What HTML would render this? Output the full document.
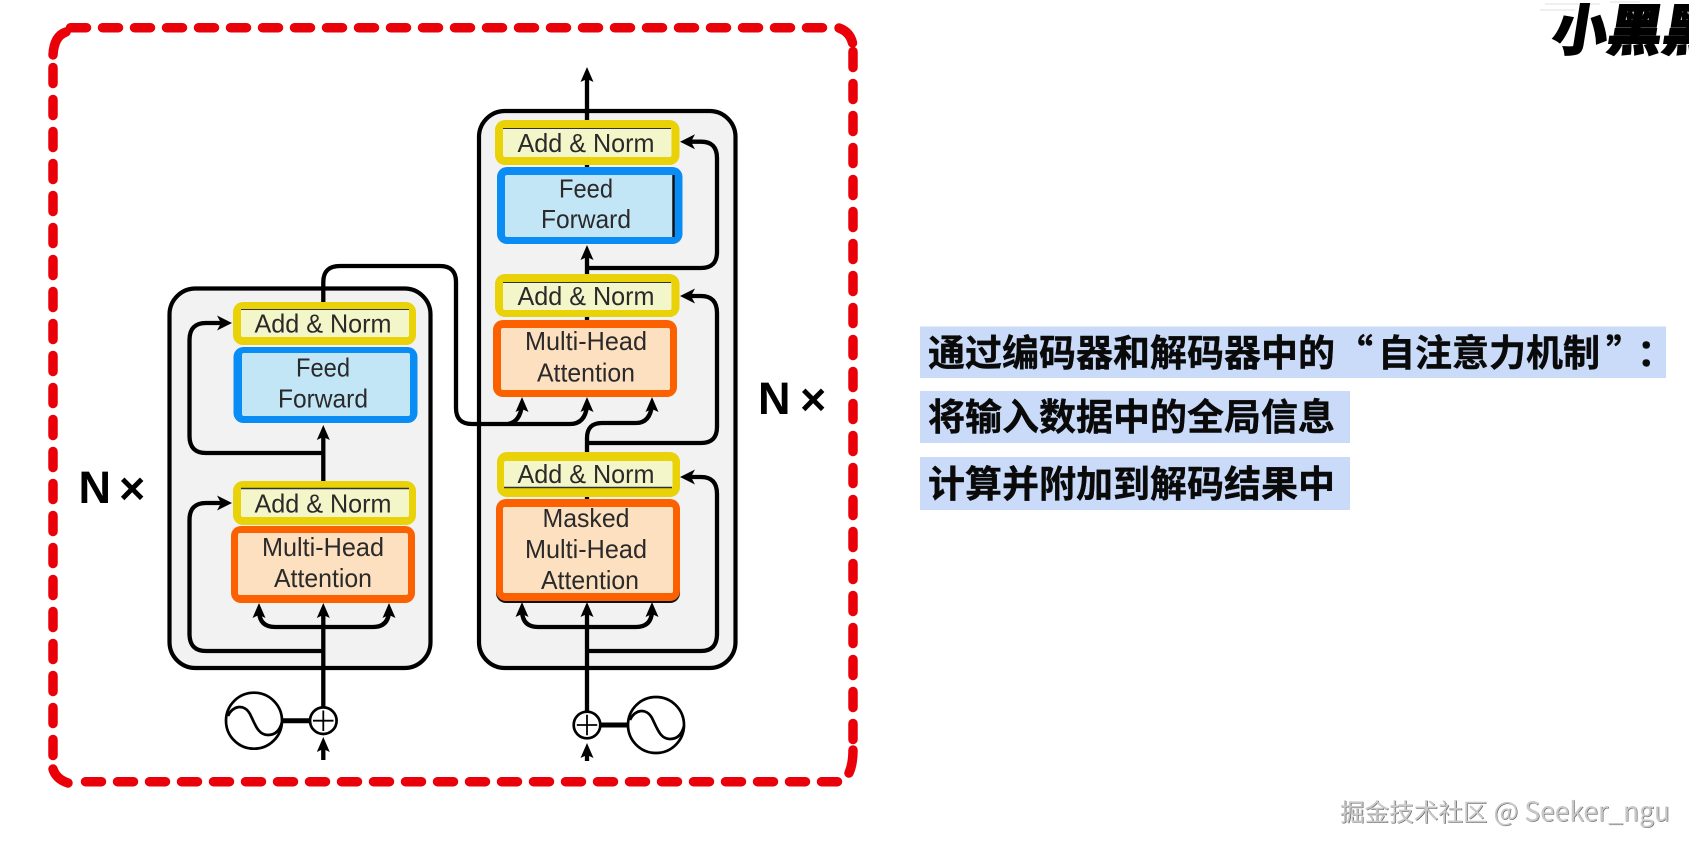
<!DOCTYPE html>
<html><head><meta charset="utf-8"><style>
html,body{margin:0;padding:0;background:#fff;width:1689px;height:851px;overflow:hidden}
svg{display:block}
.t{font-family:"Liberation Sans",sans-serif;font-size:26px;fill:#2a2a2a;text-anchor:middle}
.c{font-family:"Noto Sans CJK SC","Liberation Sans",sans-serif;font-size:37px;font-weight:700;fill:#0a0a0a;stroke:#0a0a0a;stroke-width:.4}
.n{font-family:"Liberation Sans",sans-serif;font-size:45px;font-weight:700;fill:#000}
.l{fill:none;stroke:#000;stroke-width:4.3}
.w{font-family:"Noto Sans CJK SC","Liberation Sans",sans-serif;font-size:24.6px}
.w tspan{font-size:26.4px}
</style></head><body>
<svg width="1689" height="851" viewBox="0 0 1689 851" xmlns="http://www.w3.org/2000/svg">
<defs>
<path id="au" d="M0 0L6.5 15L0 12L-6.5 15Z" fill="#000"/>
<path id="al" d="M0 0L15 -7.5L11 0L15 7.5Z" fill="#000"/>
<path id="ar" d="M0 0L-15 -7.5L-11 0L-15 7.5Z" fill="#000"/>
</defs>
<rect width="1689" height="851" fill="#fff"/>

<!-- red dashed frame -->
<g fill="none" stroke="#ea0008" stroke-width="9.5" stroke-linecap="round">
<path d="M70.5 27.7H823" stroke-dasharray="16 16"/>
<path d="M53 67.5V756" stroke-dasharray="16 16"/>
<path d="M853 51.5V745" stroke-dasharray="16 16"/>
<path d="M85.5 781.7H838" stroke-dasharray="16 16"/>
<path d="M66 32Q54 36 53 55"/>
<path d="M839 28Q850 32 852.5 43"/>
<path d="M853 750Q853 764 849 773"/>
<path d="M53 769Q56 779 68 783"/>
</g>

<!-- layer backgrounds -->
<rect x="169.5" y="288.5" width="261" height="379.5" rx="26" fill="#f2f2f2" stroke="#000" stroke-width="4.2"/>
<rect x="479" y="111" width="256.5" height="557" rx="26" fill="#f2f2f2" stroke="#000" stroke-width="4.2"/>

<!-- connectors -->
<g>
<path d="M323.3 760V745" class="l"/>
<path d="M323.3 707V610" class="l"/>
<path d="M259 612Q260 627 275 627H373Q388 627 389 612" class="l"/>
<path d="M323.3 651H206Q189.5 651 189.5 634V520Q189.5 503 206 503H222" class="l"/>
<path d="M323.3 481V432" class="l"/>
<path d="M323.3 453H206Q189.5 453 189.5 436V340Q189.5 323 206 323H222" class="l"/>
<path d="M323.3 302V282Q323.3 266 340 266H440Q456 266 456 282V408Q456 424 472 424H570Q585 424 587 406" class="l"/>
<path d="M508 424Q520 422 522 405" class="l"/>
<path d="M587 761V750" class="l"/>
<path d="M587 711V610" class="l"/>
<path d="M522 612Q523 627 538 627H636Q651 627 652 612" class="l"/>
<path d="M587 651H701Q717 651 717 634V494Q717 477 701 477H690" class="l"/>
<path d="M587 452V438Q587 423 602 423H636Q650 423 652 405" class="l"/>
<path d="M587 443H701Q717 443 717 427V313Q717 296 701 296H690" class="l"/>
<path d="M587 274V254" class="l"/>
<path d="M587 268H701Q717 268 717 252V158Q717 141.7 701 141.7H690" class="l"/>
<path d="M587 122V78" class="l"/>
<path d="M587 164V168M587 316V321M587 496V500" class="l"/>
<path d="M283 720.7H310" fill="none" stroke="#000" stroke-width="5"/>
<path d="M600 725H628" fill="none" stroke="#000" stroke-width="5"/>
</g>

<!-- arrowheads -->
<use href="#au" x="323.3" y="737"/>
<use href="#au" x="323.3" y="603"/>
<use href="#au" x="259" y="603"/>
<use href="#au" x="389" y="603"/>
<use href="#au" x="323.3" y="425"/>
<use href="#ar" x="232" y="503"/>
<use href="#ar" x="232" y="323"/>
<use href="#au" x="587" y="743"/>
<use href="#au" x="587" y="602"/>
<use href="#au" x="522" y="602"/>
<use href="#au" x="652" y="602"/>
<use href="#au" x="522" y="397"/>
<use href="#au" x="587" y="397"/>
<use href="#au" x="652" y="397"/>
<use href="#au" x="587" y="245"/>
<use href="#au" x="587" y="67"/>
<use href="#al" x="680" y="477"/>
<use href="#al" x="680" y="296"/>
<use href="#al" x="680" y="141.7"/>

<!-- sum circles and sine -->
<g fill="#fff" stroke="#000" stroke-width="2.7">
<circle cx="323.3" cy="720.7" r="13.3"/>
<circle cx="587" cy="725" r="13.3"/>
<circle cx="254" cy="720.7" r="28"/>
<circle cx="656" cy="725" r="28"/>
</g>
<path d="M313 720.7H333.5M323.3 710.5V731M576.8 725H597.2M587 714.8V735.2" fill="none" stroke="#000" stroke-width="1.8"/>
<path d="M228 716C232 706 244 703 250 714C255 724 258 735 268 735C276 735 280 730 282 722" fill="none" stroke="#000" stroke-width="2.7"/>
<path d="M630 720C634 710 646 707 652 718C657 728 660 739 670 739C678 739 682 734 684 726" fill="none" stroke="#000" stroke-width="2.7"/>

<!-- encoder blocks -->
<rect x="233" y="302" width="183" height="43" rx="10" fill="#e9d208"/>
<rect x="241" y="309" width="168" height="28" rx="2" fill="#f3f6c8"/>
<path d="M241 309.5H409" stroke="#333" stroke-width="1"/>
<rect x="233.5" y="347" width="184" height="76" rx="10" fill="#0a8cf5"/>
<rect x="242" y="353" width="168" height="63" rx="2" fill="#c3e6f7"/>
<rect x="233" y="481" width="183" height="44" rx="10" fill="#e9d208"/>
<rect x="241" y="488" width="168" height="29" rx="2" fill="#f3f6c8"/>
<path d="M241 488.5H409" stroke="#333" stroke-width="1.5"/>
<rect x="231" y="526" width="184" height="77" rx="10" fill="#fb6100"/>
<rect x="238" y="533" width="170" height="62" rx="2" fill="#fde0c0"/>

<!-- decoder blocks -->
<rect x="495" y="120" width="184.5" height="45" rx="10" fill="#e9d208"/>
<rect x="503" y="128" width="168.5" height="29" rx="2" fill="#f3f6c8"/>
<path d="M503 128.5H671" stroke="#333" stroke-width="1"/>
<rect x="497" y="167" width="185.5" height="77" rx="10" fill="#0a8cf5"/>
<rect x="505" y="175" width="169.5" height="62" rx="2" fill="#c3e6f7"/>
<path d="M673.5 175V237" stroke="#111" stroke-width="2.5"/>
<rect x="495" y="274" width="184.5" height="43" rx="10" fill="#e9d208"/>
<rect x="503" y="282" width="168.5" height="28" rx="2" fill="#f3f6c8"/>
<path d="M503 282.5H671" stroke="#333" stroke-width="1"/>
<rect x="493" y="320" width="184" height="77" rx="10" fill="#fb6100"/>
<rect x="501" y="328" width="169" height="62" rx="2" fill="#fde0c0"/>
<rect x="497" y="452" width="183" height="45" rx="10" fill="#e9d208"/>
<rect x="504" y="461" width="168.5" height="27" rx="2" fill="#f3f6c8"/>
<path d="M504 487.5H672" stroke="#333" stroke-width="1.5"/>
<rect x="496" y="501" width="184" height="102" rx="10" fill="#111"/>
<rect x="496" y="499" width="184" height="102" rx="10" fill="#fb6100"/>
<rect x="503" y="507" width="170" height="86" rx="2" fill="#fde0c0"/>

<!-- block labels -->
<text class="t" x="323" y="332.7" textLength="137" lengthAdjust="spacingAndGlyphs">Add &amp; Norm</text>
<text class="t" x="323" y="376.7" textLength="54" lengthAdjust="spacingAndGlyphs">Feed</text>
<text class="t" x="323" y="407.5" textLength="90" lengthAdjust="spacingAndGlyphs">Forward</text>
<text class="t" x="323" y="512.7" textLength="137" lengthAdjust="spacingAndGlyphs">Add &amp; Norm</text>
<text class="t" x="323" y="556" textLength="122" lengthAdjust="spacingAndGlyphs">Multi-Head</text>
<text class="t" x="323" y="587" textLength="98" lengthAdjust="spacingAndGlyphs">Attention</text>
<text class="t" x="586" y="152" textLength="137" lengthAdjust="spacingAndGlyphs">Add &amp; Norm</text>
<text class="t" x="586" y="197.3" textLength="54" lengthAdjust="spacingAndGlyphs">Feed</text>
<text class="t" x="586" y="228" textLength="90" lengthAdjust="spacingAndGlyphs">Forward</text>
<text class="t" x="586" y="305" textLength="137" lengthAdjust="spacingAndGlyphs">Add &amp; Norm</text>
<text class="t" x="586" y="350" textLength="122" lengthAdjust="spacingAndGlyphs">Multi-Head</text>
<text class="t" x="586" y="381.7" textLength="98" lengthAdjust="spacingAndGlyphs">Attention</text>
<text class="t" x="586" y="483" textLength="137" lengthAdjust="spacingAndGlyphs">Add &amp; Norm</text>
<text class="t" x="586" y="527" textLength="87" lengthAdjust="spacingAndGlyphs">Masked</text>
<text class="t" x="586" y="558" textLength="122" lengthAdjust="spacingAndGlyphs">Multi-Head</text>
<text class="t" x="590" y="589" textLength="98" lengthAdjust="spacingAndGlyphs">Attention</text>

<!-- Nx -->
<text class="n" x="78.5" y="503">N</text><text class="n" x="119" y="504">×</text>
<text class="n" x="758" y="414">N</text><text class="n" x="800" y="415">×</text>

<!-- highlights -->
<rect x="920" y="326.5" width="746" height="51.5" fill="#cadbf9"/>
<rect x="920" y="391" width="430" height="52" fill="#cadbf9"/>
<rect x="920" y="457" width="430" height="53" fill="#cadbf9"/>
<text class="c" x="928" y="366">通过编码器和解码器中的</text>
<text class="c" x="1336" y="366">“</text>
<text class="c" x="1378" y="366">自注意力机制</text>
<text class="c" x="1606" y="366">”</text>
<text class="c" x="1637" y="366">：</text>
<text class="c" x="928" y="430">将输入数据中的全局信息</text>
<text class="c" x="928" y="497">计算并附加到解码结果中</text>

<!-- logo -->
<path d="M1545 4H1600M1540 10H1575M1610 2H1640" stroke="#efefef" stroke-width="2" fill="none"/>
<g transform="translate(1550 50) skewX(-9)">
<text x="0" y="0" font-family="'Noto Sans CJK SC',sans-serif" font-size="55" font-weight="900" fill="#000" stroke="#000" stroke-width="1.4">小黑黑</text>
</g>

<!-- watermark -->
<text class="w" x="1340.7" y="821.7" fill="#666">掘金技术社区<tspan> @ Seeker_ngu</tspan></text>
<text class="w" x="1340" y="821" fill="#c9c9c9">掘金技术社区<tspan> @ Seeker_ngu</tspan></text>
</svg>
</body></html>
